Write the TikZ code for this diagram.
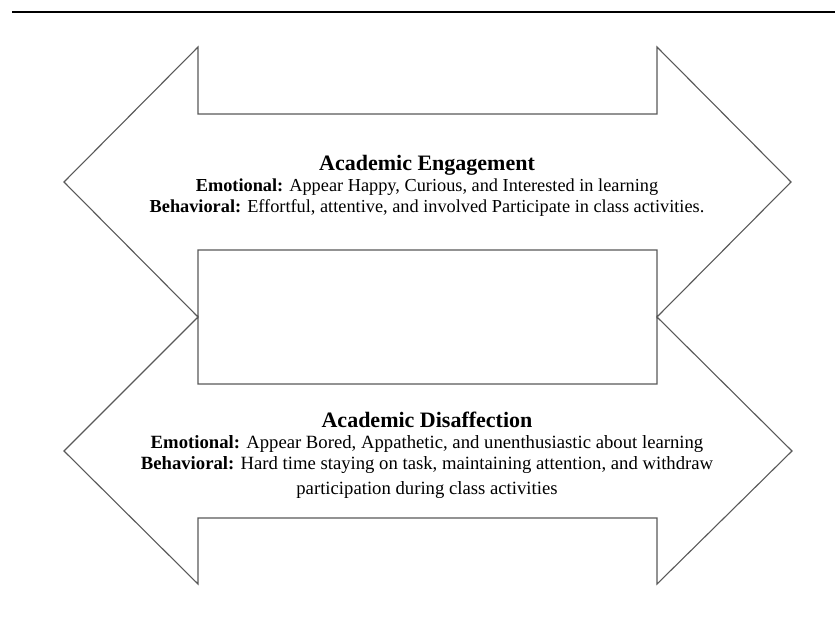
\documentclass[tikz,border=0pt]{standalone}
\usepackage{fontspec}
\setmainfont{Liberation Serif}

\begin{document}
\begin{tikzpicture}[x=1pt,y=-1pt,
	arrow shape/.style={draw=black!65,line width=1.1pt,line join=miter,fill=white},
	label text/.style={align=center,inner sep=0pt}]

	\useasboundingbox (0,0) rectangle (835,619);

	% rule at the top
	\draw[line width=2.6pt] (12,12) -- (835,12);

	% engagement arrow
	\draw[arrow shape] (64,182) -- (198,47) -- (198,114) -- (657,114) -- (657,47)
		-- (791,182) -- (657,317) -- (657,250) -- (198,250) -- (198,317) -- cycle;
	% disaffection arrow
	\draw[arrow shape] (64,451) -- (198,317) -- (198,384) -- (657,384) -- (657,317)
		-- (792,451) -- (657,584) -- (657,518) -- (198,518) -- (198,584) -- cycle;

	\node[label text,font=\fontsize{18.3}{21}\selectfont] (engage) at (427,186)
		{{\fontsize{22}{22}\selectfont\bfseries Academic Engagement}\\
		\textbf{Emotional:} Appear Happy, Curious, and Interested in learning\\
		\textbf{Behavioral:} Effortful, attentive, and involved Participate in class activities.};
	\node[label text,font=\fontsize{18.7}{21}\selectfont] (disaffect) at (427,455)
		{{\fontsize{22}{22}\selectfont\bfseries Academic Disaffection}\\
		\textbf{Emotional:} Appear Bored, Appathetic, and unenthusiastic about learning\\
		\textbf{Behavioral:} Hard time staying on task, maintaining attention, and withdraw\\[4pt]
		participation during class activities};
\end{tikzpicture}
\end{document}
